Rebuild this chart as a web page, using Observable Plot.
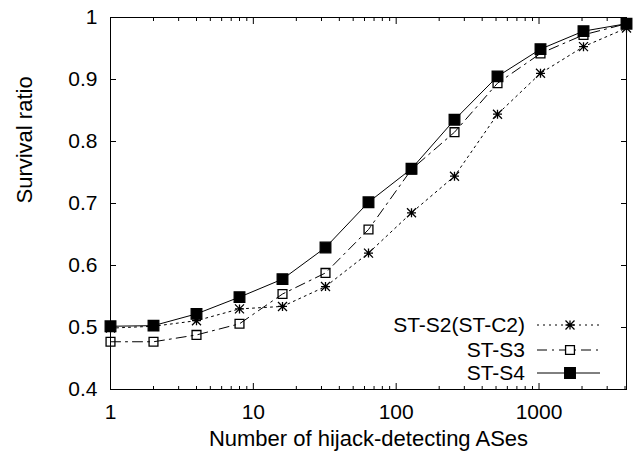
<!DOCTYPE html>
<html>
<head>
<meta charset="utf-8">
<script src="https://cdn.jsdelivr.net/npm/d3@7"></script>
<script src="https://cdn.jsdelivr.net/npm/@observablehq/plot@0.6"></script>
<style>
  html, body { margin: 0; padding: 0; background: white; }
  #chart { width: 635px; height: 457px; }
</style>
</head>
<body>
<div id="chart"></div>
<script>
const detecting = [1, 2, 4, 8, 16, 32, 64, 128, 256, 512, 1024, 2048, 4096];
const stS2 = [0.499, 0.502, 0.511, 0.530, 0.534, 0.566, 0.620, 0.685, 0.744, 0.844, 0.910, 0.953, 0.983];
const stS3 = [0.477, 0.477, 0.488, 0.506, 0.554, 0.588, 0.658, 0.755, 0.815, 0.894, 0.942, 0.972, 0.990];
const stS4 = [0.502, 0.503, 0.522, 0.549, 0.578, 0.629, 0.702, 0.756, 0.835, 0.905, 0.949, 0.978, 0.990];
const seriesNames = ["ST-S2(ST-C2)", "ST-S3", "ST-S4"];
const xMajor = [1, 10, 100, 1000];
const xMinor = [2,3,4,5,6,7,8,9,20,30,40,50,60,70,80,90,200,300,400,500,600,700,800,900,2000,3000,4000];
const yTicks = [0.4, 0.5, 0.6, 0.7, 0.8, 0.9, 1.0];
const xLabel = "Number of hijack-detecting ASes";
const yLabel = "Survival ratio";

const FONT = "'Liberation Sans', Arial, Helvetica, sans-serif";

const asterisk = {
  draw(ctx, size) {
    const r = Math.sqrt(size / Math.PI);
    ctx.moveTo(-r, 0); ctx.lineTo(r, 0);
    ctx.moveTo(0, -r); ctx.lineTo(0, r);
    ctx.moveTo(-r, -r); ctx.lineTo(r, r);
    ctx.moveTo(-r, r); ctx.lineTo(r, -r);
  }
};

const styles = [
  {dash: "2,4", symbol: asterisk, fill: "none", r: 4.5},
  {dash: "10,5,2,5", symbol: "square", fill: "none", r: 5},
  {dash: null, symbol: "square", fill: "black", r: 6}
];
const values = [stS2, stS3, stS4];

const rows = [];
values.forEach((vals, si) => vals.forEach((v, i) => rows.push({x: detecting[i], y: v, s: seriesNames[si]})));

const seriesMarks = [];
seriesNames.forEach((name, si) => {
  const data = rows.filter(d => d.s === name);
  const st = styles[si];
  seriesMarks.push(Plot.line(data, {x: "x", y: "y", stroke: "black", strokeWidth: 1, strokeDasharray: st.dash}));
});
seriesNames.forEach((name, si) => {
  const data = rows.filter(d => d.s === name);
  const st = styles[si];
  seriesMarks.push(Plot.dot(data, {x: "x", y: "y", symbol: () => st.symbol, r: st.r, stroke: "black", strokeWidth: 1.3, fill: st.fill}));
});

const chart = Plot.plot({
  width: 635,
  height: 457,
  marginLeft: 110,
  marginRight: 9,
  marginTop: 17,
  marginBottom: 68,
  x: {type: "log", domain: [1, 4096], label: null},
  y: {domain: [0.4, 1], label: null},
  symbol: {type: "identity"},
  style: {fontFamily: FONT, fontSize: "21px", color: "black", background: "white"},
  marks: [
    Plot.axisX(xMajor, {anchor: "bottom", tickSize: -6, tickFormat: () => "", label: null}),
    Plot.axisX(xMajor, {anchor: "top", tickSize: -6, tickFormat: () => "", label: null}),
    Plot.axisX(xMinor, {anchor: "bottom", tickSize: -3, tickFormat: () => "", label: null}),
    Plot.axisX(xMinor, {anchor: "top", tickSize: -3, tickFormat: () => "", label: null}),
    Plot.axisX(xMajor, {anchor: "bottom", tickSize: 0, tickPadding: 15, tickFormat: d => String(d), label: null, fontSize: 21}),
    Plot.axisY(yTicks, {anchor: "left", tickSize: -6, tickFormat: () => "", label: null}),
    Plot.axisY(yTicks, {anchor: "right", tickSize: -6, tickFormat: () => "", label: null}),
    Plot.axisY(yTicks, {anchor: "left", tickSize: 0, tickPadding: 13, tickFormat: d => d === 1 ? "1" : d.toFixed(1), label: null, fontSize: 21}),
    Plot.text([xLabel], {text: d => d, frameAnchor: "bottom", dy: 56, fontSize: 22}),
    Plot.text([yLabel], {text: d => d, frameAnchor: "left", rotate: -90, dx: -86, fontSize: 22}),
    ...seriesMarks,
    Plot.frame({stroke: "black", strokeWidth: 1})
  ]
});

// Legend (inside the plot, bottom-right), drawn into the same SVG
const svg = d3.select(chart);
const leg = svg.append("g").attr("font-family", FONT).attr("font-size", 21);
const legRowY = [325, 350, 373];
seriesNames.forEach((name, si) => {
  const y = legRowY[si];
  const st = styles[si];
  leg.append("text").attr("x", 525).attr("y", y).attr("dy", "0.35em").attr("text-anchor", "end").attr("fill", "black").text(name);
  leg.append("line").attr("x1", 537).attr("x2", 600).attr("y1", y).attr("y2", y)
    .attr("stroke", "black").attr("stroke-width", 1).attr("stroke-dasharray", st.dash);
  const size = Math.PI * st.r * st.r;
  const path = d3.symbol(typeof st.symbol === "string" ? d3.symbolSquare : st.symbol, size)();
  leg.append("path").attr("d", path).attr("transform", `translate(570,${y})`)
    .attr("stroke", "black").attr("stroke-width", 1.3).attr("fill", st.fill === "none" ? "white" : st.fill);
});

document.getElementById("chart").appendChild(chart);
</script>
</body>
</html>
